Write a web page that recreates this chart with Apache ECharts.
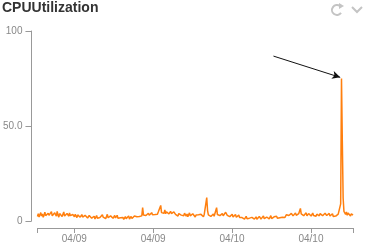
<!DOCTYPE html>
<html><head><meta charset="utf-8">
<script src="https://cdn.jsdelivr.net/npm/echarts@6/dist/echarts.min.js"></script>
<style>html,body{margin:0;padding:0;background:#fff}#c{width:370px;height:247px}</style>
</head><body><div id="c"></div>
<script>
const chartTitle = 'CPUUtilization';
// sample times: hours relative to 04/09 00:00, every 7.5 minutes
const startHour = -5.6;
const stepHours = 0.125;
const cpuValues = [
  2.4, 3.9, 2.1, 3.3, 4.4, 2.6, 3.7, 2.0, 3.1, 4.6,
  2.8, 3.5, 1.9, 4.1, 3.0, 2.3, 3.8, 4.9, 2.7, 3.4,
  2.2, 4.3, 3.6, 2.5, 5.1, 3.2, 2.0, 3.9, 2.9, 4.5,
  2.4, 3.3, 4.8, 2.6, 3.6, 2.1, 4.0, 3.0, 2.5, 4.2,
  2.8, 3.7, 2.3, 3.4,
  2.9, 2.2, 3.5, 2.6, 1.8, 3.2, 2.4, 3.0, 2.0, 2.7,
  3.4, 2.1, 2.6, 1.7, 3.0, 2.3, 2.8, 1.6, 2.4, 2.9,
  1.9, 2.5, 1.5, 2.2,
  1.6, 2.5, 1.1, 2.0, 2.9, 1.4, 2.2, 1.0, 1.8, 2.6,
  1.3, 3.3, 2.0, 1.5, 2.8, 1.2, 2.4, 3.5, 1.7, 2.1,
  1.0, 2.7, 1.9, 3.1, 1.4, 2.3, 2.9, 1.6, 2.5, 3.0,
  1.4, 2.2, 0.9, 1.7, 2.5, 1.1, 1.9, 0.8, 1.5, 2.3,
  1.2, 2.0, 1.6, 2.7, 1.0, 1.8, 2.4, 1.3, 2.1, 1.5,
  2.6, 1.9, 2.9, 2.2,
  2.0, 3.1, 2.4, 1.8, 3.4, 2.7, 7.0, 3.2, 2.5, 3.8,
  2.9, 3.5, 2.2, 4.1, 3.0, 3.7, 2.6, 4.4, 3.3, 2.8,
  4.0, 3.4, 2.7, 4.3,
  3.6, 4.7, 3.9, 5.4, 8.2, 4.4, 3.5, 5.2, 4.0, 5.8,
  3.8, 4.9, 4.3, 5.6, 3.7, 4.6, 5.1, 3.9, 4.5, 3.3,
  4.8, 4.1, 3.5, 4.4,
  3.2, 2.6, 3.9, 2.9, 4.4, 3.1, 2.4, 3.6, 2.8, 4.1,
  3.3, 2.5, 3.7, 2.2, 3.0, 4.3, 2.7, 3.4, 2.3, 3.8,
  2.9, 3.5, 2.1, 3.2, 4.0, 2.6, 3.3, 2.8,
  2.4, 3.5, 2.7, 3.2, 2.2, 3.6, 2.9, 3.4,
  12.3, 5.5, 3.2,
  2.6, 3.6, 2.4, 3.1, 2.8, 3.7, 2.5, 3.3, 3.0,
  7.0,
  3.4, 2.5, 3.8, 2.8, 3.3, 2.2, 3.9, 2.7, 3.5, 2.4,
  4.6, 5.0, 3.0, 2.6, 3.7, 2.3, 3.2, 2.8, 3.6, 2.1,
  3.0, 2.7, 3.4, 2.0, 2.9, 2.4, 3.1, 1.9, 2.6, 2.2, 1.8,
  1.3, 2.1, 1.0, 1.8, 2.5, 1.2, 1.7, 0.8, 1.5, 2.3,
  1.1, 1.9, 1.4, 2.6, 1.0, 1.6, 2.2, 0.9, 1.8, 1.3,
  2.4, 1.5, 1.0, 2.0, 1.4, 2.7, 1.2, 1.7, 0.9, 2.1,
  1.5, 2.3, 1.1, 1.8, 2.8, 1.3, 1.9, 1.0, 2.2, 1.6,
  1.2, 2.5, 1.4, 2.0, 1.1, 1.7, 2.4, 1.3, 2.0, 1.5,
  2.6, 1.8,
  2.4, 3.3, 2.6, 3.8, 2.9, 3.5, 2.3, 4.0, 3.1, 2.7,
  3.6, 2.8, 4.2, 3.0, 3.4, 2.5, 3.9, 4.4, 6.6, 3.7,
  3.1, 4.1, 2.8, 3.6, 3.2, 4.3, 2.7, 3.5, 3.9, 3.0,
  3.7, 2.6, 3.4, 4.2, 2.9, 3.8, 3.2, 2.5, 3.6, 4.0,
  3.1, 2.7, 3.9, 3.3, 4.5, 2.8, 3.4, 3.0, 4.1, 3.5,
  2.9, 3.7, 3.2, 4.0, 2.6, 3.5, 3.1, 3.8, 2.4, 3.3,
  1.9, 2.6, 1.7, 2.4, 3.6, 4.2,
  4.5, 9, 75, 42, 12, 5, 4.5,
  3.5, 4.8, 3.0, 4.2, 5.0, 3.3, 2.6, 3.8, 2.9, 3.1
];
const xTickValues = [0, 12, 24, 36];
const xTickLabels = ['04/09', '04/09', '04/10', '04/10'];
const yTickValues = [0, 50, 100];
const yTickLabels = ['0', '50.0', '100'];
// annotation arrow (data space) pointing at the peak
const arrowStart = [30.3, 86.8];
const arrowEnd = [40.45, 75.6];

const endHour = startHour + (cpuValues.length - 1) * stepHours;
const seriesData = cpuValues.map((v, i) => [startHour + i * stepHours, v]);

const chart = echarts.init(document.getElementById('c'), null, {renderer: 'canvas'});
chart.setOption({
  animation: false,
  backgroundColor: '#fff',
  title: {
    text: chartTitle, left: 2, top: 1, padding: 0,
    textStyle: {fontFamily: 'Liberation Sans, Arial, sans-serif', fontSize: 14, fontWeight: 'bold', color: '#333'}
  },
  grid: {left: 36, right: 17, top: 31, bottom: 26, containLabel: false},
  xAxis: {
    type: 'value', min: startHour, max: endHour, offset: 7,
    splitLine: {show: false},
    axisLine: {show: true, onZero: false, lineStyle: {color: '#999', width: 1}},
    axisTick: {show: true, length: 5, lineStyle: {color: '#999'}, customValues: [startHour].concat(xTickValues, [endHour])},
    axisLabel: {
      customValues: xTickValues, margin: 6, color: '#888', fontSize: 10,
      fontFamily: 'Liberation Sans, Arial, sans-serif',
      formatter: v => { const k = xTickValues.indexOf(Math.round(v)); return k >= 0 ? xTickLabels[k] : ''; }
    }
  },
  yAxis: {
    type: 'value', min: 0, max: 100, interval: 50, offset: 6,
    splitLine: {show: false},
    axisLine: {show: true, onZero: false, lineStyle: {color: '#999', width: 1}},
    axisTick: {show: true, length: 6, lineStyle: {color: '#999'}},
    axisLabel: {
      margin: 9, color: '#888', fontSize: 10, fontFamily: 'Liberation Sans, Arial, sans-serif',
      formatter: v => { const k = yTickValues.indexOf(v); return k >= 0 ? yTickLabels[k] : ''; }
    }
  },
  series: [{
    type: 'line', data: seriesData, showSymbol: false, symbol: 'none',
    lineStyle: {color: '#ff7f0e', width: 1.5},
    markLine: {
      silent: true, symbol: ['none', 'arrow'], symbolSize: [6, 8],
      label: {show: false},
      lineStyle: {color: '#111', width: 1, type: 'solid'},
      data: [[{coord: arrowStart}, {coord: arrowEnd}]]
    }
  }],
  graphic: [
    {type: 'arc', shape: {cx: 337, cy: 10, r: 5, startAngle: Math.PI * 0.2, endAngle: Math.PI * 1.75, clockwise: true},
     style: {stroke: '#c4c4c4', lineWidth: 2, fill: null}},
    {type: 'polygon', shape: {points: [[339, 3], [344, 6], [339, 9]]}, style: {fill: '#c4c4c4'}},
    {type: 'polyline', shape: {points: [[352, 7], [357, 12], [362, 7]]}, style: {stroke: '#c4c4c4', lineWidth: 2, fill: null}}
  ]
});
</script>
</body></html>
